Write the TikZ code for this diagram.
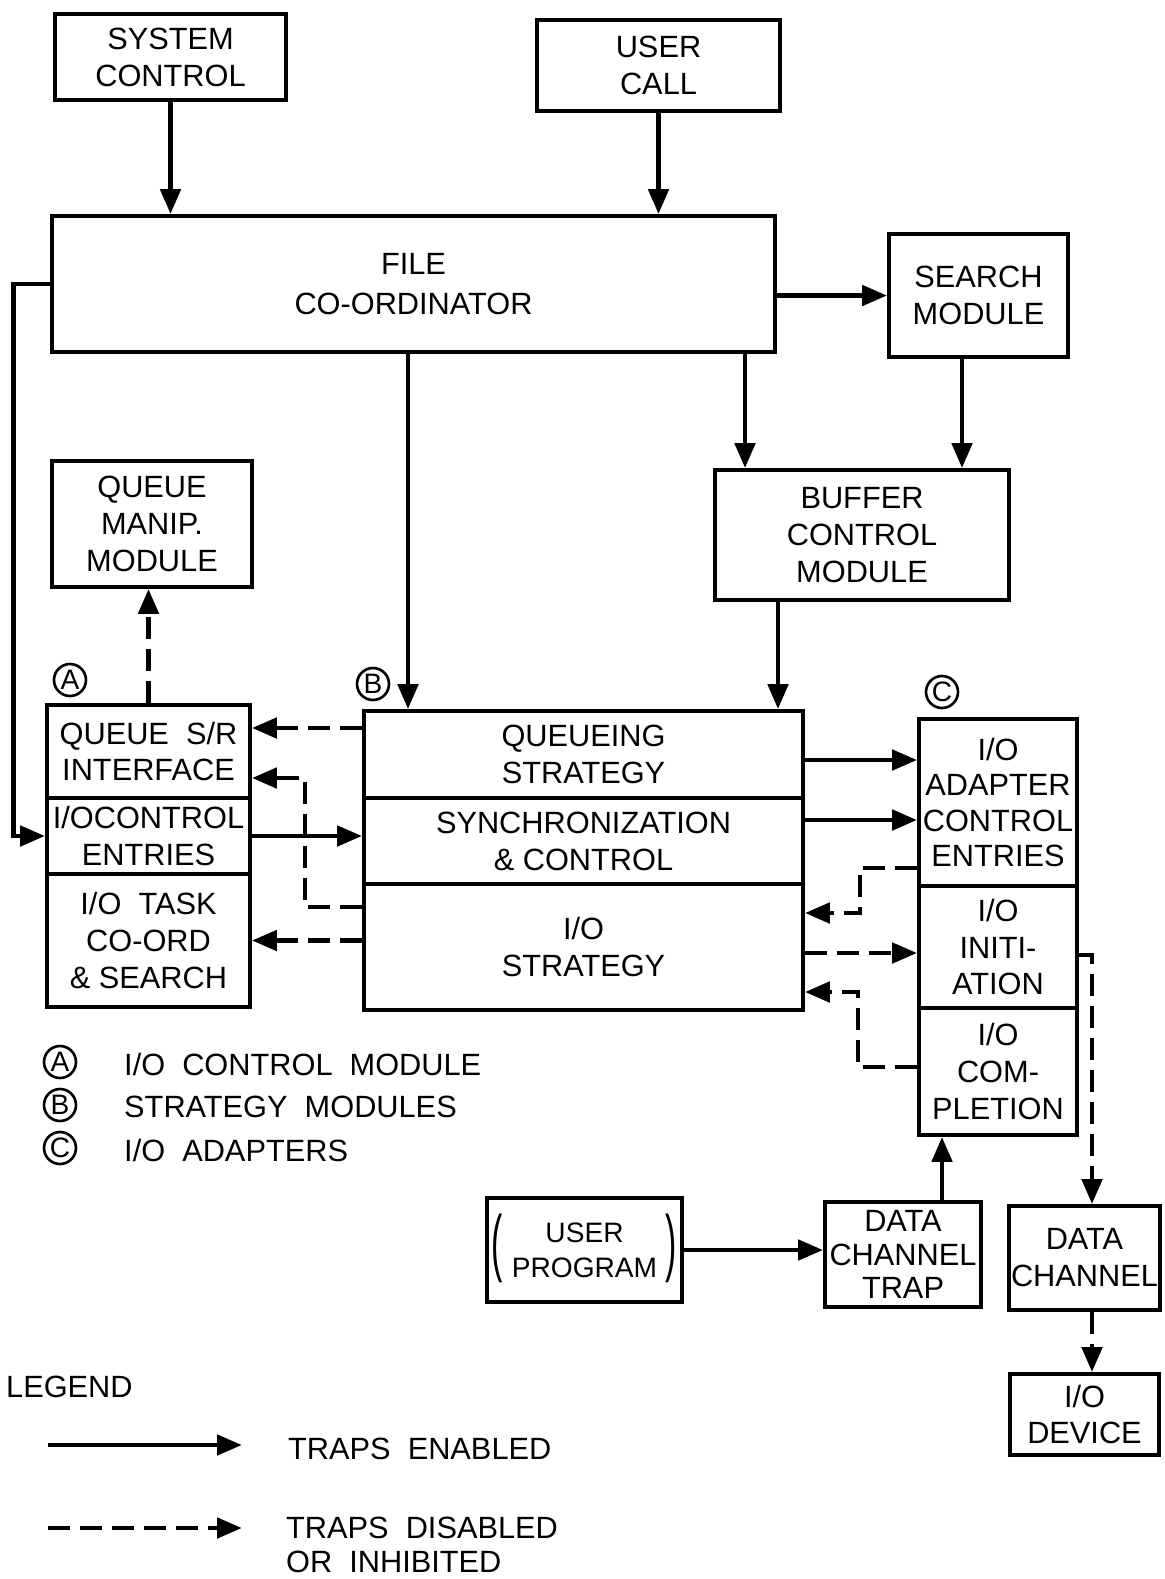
\documentclass[tikz,border=0pt]{standalone}
\usepackage{graphicx}
\usepackage{fontspec}
\setmainfont{Liberation Sans}
\usetikzlibrary{arrows.meta}

\begin{document}
\begin{tikzpicture}[x=0.02cm,y=-0.02cm,
  font=\fontsize{17.5}{21}\selectfont,
  blk/.style={draw,line width=2.2pt,align=center,inner sep=1pt},
  arr/.style={line width=2.8pt,-{Triangle[length=0.5cm,width=0.4cm]}},
  darr/.style={arr,dash pattern=on 0.44cm off 0.2cm},
  tag/.style={draw,circle,line width=1.5pt,inner sep=0pt,minimum size=0.64cm,font=\fontsize{16}{16}\selectfont}]
\useasboundingbox (0,0) rectangle (1165,1579);

% upper boxes
\node[blk,minimum width=4.62cm,minimum height=1.72cm] (sysctl) at (170.5,57) {SYSTEM\\CONTROL};
\node[blk,minimum width=4.86cm,minimum height=1.82cm] (usercall) at (658.5,65.5) {USER\\CALL};
\node[blk,minimum width=14.46cm,minimum height=2.72cm,font=\fontsize{17.5}{23}\selectfont] (filecoord) at (413.5,284) {FILE\\CO-ORDINATOR};
\node[blk,minimum width=3.58cm,minimum height=2.46cm] (search) at (978.5,295.5) {SEARCH\\MODULE};
\node[blk,minimum width=4.0cm,minimum height=2.52cm] (queuemanip) at (152,524) {QUEUE\\MANIP.\\MODULE};
\node[blk,minimum width=5.88cm,minimum height=2.6cm] (buffer) at (862,535) {BUFFER\\CONTROL\\MODULE};

% A: I/O control module
\node[blk,minimum width=4.06cm,minimum height=1.86cm] (qsr) at (148.5,751.5) {QUEUE\ \ S/R\\INTERFACE};
\node[blk,minimum width=4.06cm,minimum height=1.52cm] (ioctl) at (148.5,836) {I/OCONTROL\\ENTRIES};
\node[blk,minimum width=4.06cm,minimum height=2.66cm] (iotask) at (148.5,940.5) {I/O\ \ TASK\\CO-ORD\\\& SEARCH};
% B: strategy modules
\node[blk,minimum width=8.78cm,minimum height=1.74cm] (qstrat) at (583.5,754.5) {QUEUEING\\STRATEGY};
\node[blk,minimum width=8.78cm,minimum height=1.72cm] (sync) at (583.5,841) {SYNCHRONIZATION\\\& CONTROL};
\node[blk,minimum width=8.78cm,minimum height=2.52cm] (iostrat) at (583.5,947) {I/O\\STRATEGY};
% C: I/O adapters
\node[blk,minimum width=3.16cm,minimum height=3.34cm,font=\fontsize{17.5}{20}\selectfont] (adapter) at (998,802.5) {I/O\\ADAPTER\\CONTROL\\ENTRIES};
\node[blk,minimum width=3.16cm,minimum height=2.44cm] (init) at (998,947) {I/O\\INITI-\\ATION};
\node[blk,minimum width=3.16cm,minimum height=2.54cm] (compl) at (998,1071.5) {I/O\\COM-\\PLETION};

% lower boxes
\node[blk,minimum width=3.9cm,minimum height=2.08cm,font=\fontsize{16}{20}\selectfont] (userprog) at (584.5,1250) {USER\\PROGRAM};
\node (lparen) at (497,1248) {\scalebox{1.1}[2.4]{(}};
\node (rparen) at (671,1248) {\scalebox{1.1}[2.4]{)}};
\node[blk,minimum width=3.12cm,minimum height=2.1cm,font=\fontsize{17.5}{19}\selectfont] (dctrap) at (903,1254.5) {DATA\\CHANNEL\\TRAP};
\node[blk,minimum width=2.98cm,minimum height=2.08cm] (dchan) at (1084.5,1258) {DATA\\CHANNEL};
\node[blk,minimum width=2.98cm,minimum height=1.62cm] (iodev) at (1084.5,1414.5) {I/O\\DEVICE};

\node[tag] (tagA) at (70,680) {A};
\node[tag] (tagB) at (373,684) {B};
\node[tag] (tagC) at (942,692) {C};

% connectors
\draw[arr] (sysctl.south) -- (sysctl.south |- filecoord.north);
\draw[arr] (usercall.south) -- (usercall.south |- filecoord.north);
\draw[arr] (search.west -| filecoord.east) -- (search.west);
\draw[arr] (filecoord.west) -- ++(-37,0) |- (ioctl.west);
\draw[arr] (408,0 |- filecoord.south) -- (408,0 |- qstrat.north);
\draw[arr] (745,0 |- filecoord.south) -- (745,0 |- buffer.north);
\draw[arr] (962,0 |- search.south) -- (962,0 |- buffer.north);
\draw[arr] (778,0 |- buffer.south) -- (778,0 |- qstrat.north);
\draw[darr] (qsr.north) -- (qsr.north |- queuemanip.south);
\draw[darr] (0,728 -| qstrat.west) -- (0,728 -| qsr.east);
\draw[darr] (0,907 -| iostrat.west) -| (305,778) -- (0,778 -| qsr.east);
\draw[arr] (ioctl.east) -- (ioctl.east -| sync.west);
\draw[darr] (iotask.east -| iostrat.west) -- (iotask.east);
\draw[arr] (0,760 -| qstrat.east) -- (0,760 -| adapter.west);
\draw[arr] (0,820 -| sync.east) -- (0,820 -| adapter.west);
\draw[darr] (0,868 -| adapter.west) -| (860,913) -- (0,913 -| iostrat.east);
\draw[darr] (0,953 -| iostrat.east) -- (0,953 -| init.west);
\draw[darr] (0,1067 -| compl.west) -| (858,992) -- (0,992 -| iostrat.east);
\draw[darr] (0,955 -| init.east) -| (1092,0 |- dchan.north);
\draw[arr] (942,0 |- dctrap.north) -- (942,0 |- compl.south);
\draw[arr] (userprog.east) -- (userprog.east -| dctrap.west);
\draw[darr] (1092,0 |- dchan.south) -- (1092,0 |- iodev.north);

% key
\node[tag] (keyA) at (60,1062) {A};
\node[tag] (keyB) at (60,1105) {B};
\node[tag] (keyC) at (60,1148) {C};
\node[anchor=west] (keyAtxt) at (118,1064) {I/O\ \ CONTROL\ \ MODULE};
\node[anchor=west] (keyBtxt) at (118,1107) {STRATEGY\ \ MODULES};
\node[anchor=west] (keyCtxt) at (118,1150) {I/O\ \ ADAPTERS};

% legend
\node[anchor=west] (legend) at (0,1387) {LEGEND};
\node[anchor=west] (enabled) at (282,1449) {TRAPS\ \ ENABLED};
\node[anchor=west,align=left,font=\fontsize{17.5}{19}\selectfont] (disabled) at (280,1545) {TRAPS\ \ DISABLED\\OR\ \ INHIBITED};
\coordinate (solidstart) at (48,1445);
\coordinate (dashstart) at (48,1528);
\draw[arr] (solidstart) -- ++(194,0);
\draw[darr] (dashstart) -- ++(194,0);
\end{tikzpicture}
\end{document}
